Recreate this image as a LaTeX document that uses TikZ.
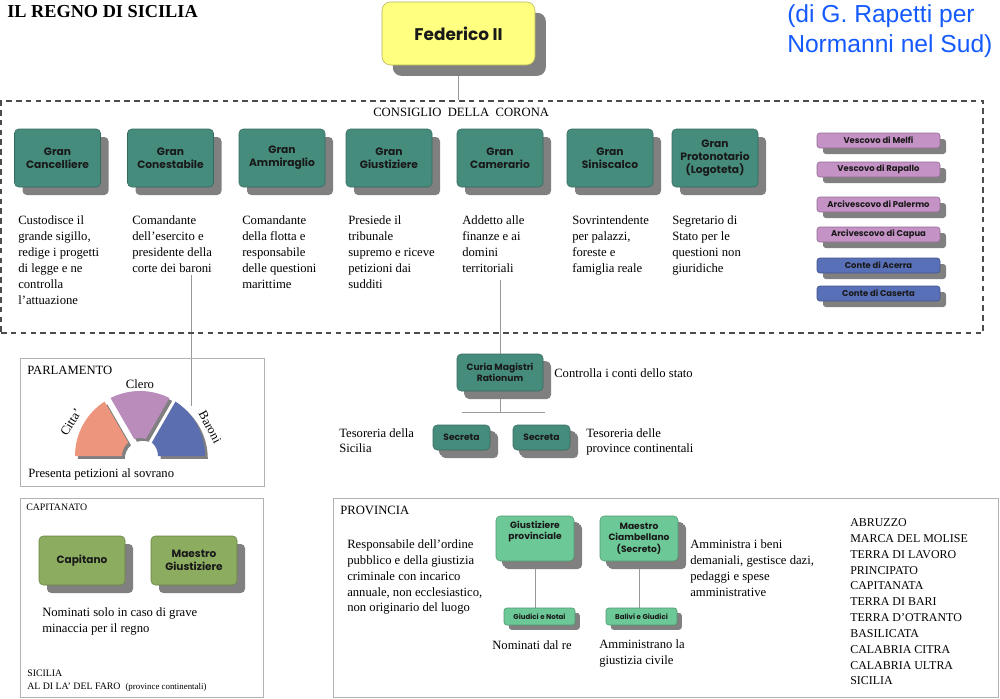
\documentclass[tikz,border=0pt]{standalone}
\usepackage{fontspec}
\setmainfont{Liberation Serif}
\newfontfamily\boxfont{Poppins}
\newfontfamily\creditfont{Liberation Sans}
\usetikzlibrary{shadows,backgrounds}

\definecolor{tealbox}{RGB}{70,140,125}
\definecolor{kingyellow}{RGB}{255,255,128}
\definecolor{bishoppink}{RGB}{196,146,196}
\definecolor{countblue}{RGB}{88,112,184}
\definecolor{captaingreen}{RGB}{140,172,96}
\definecolor{mintbox}{RGB}{108,200,150}
\definecolor{shadowgray}{RGB}{128,128,128}
\definecolor{boxtext}{RGB}{25,25,25}
\definecolor{creditblue}{RGB}{20,90,255}
\definecolor{cittacol}{RGB}{238,150,125}
\definecolor{clerocol}{RGB}{185,140,188}
\definecolor{baronicol}{RGB}{90,110,176}

\newcommand{\pxu}{0.025cm}

\begin{document}
\begin{tikzpicture}[
        x=\pxu, y=-\pxu,
        every node/.style={font=\fontsize{9}{11.4}\selectfont},
        king/.style={
            draw=kingyellow!70!black,
            fill=kingyellow,
            rounded corners=6pt,
            minimum width=153*\pxu,
            minimum height=63*\pxu,
            text=boxtext,
            font=\boxfont\bfseries\fontsize{12}{14}\selectfont,
            general shadow={fill=shadowgray, shadow xshift=0.27cm, shadow yshift=-0.27cm}
        },
        office/.style={
            draw=tealbox!75!black,
            fill=tealbox,
            rounded corners=3pt,
            inner sep=1pt,
            align=center,
            text=boxtext,
            minimum width=86*\pxu,
            minimum height=58*\pxu,
            font=\boxfont\bfseries\fontsize{7.6}{9.4}\selectfont,
            general shadow={fill=shadowgray, shadow xshift=0.2cm, shadow yshift=-0.2cm}
        },
        member/.style={
            draw=#1!75!black,
            fill=#1,
            rounded corners=2pt,
            inner sep=0pt,
            text=boxtext,
            minimum width=123*\pxu,
            minimum height=15*\pxu,
            font=\boxfont\bfseries\fontsize{6}{7}\selectfont,
            general shadow={fill=shadowgray, shadow xshift=0.15cm, shadow yshift=-0.15cm}
        },
        smallbox/.style={
            draw=#1!75!black,
            fill=#1,
            rounded corners=2pt,
            inner sep=0pt,
            text=boxtext,
            font=\boxfont\bfseries\fontsize{5}{6}\selectfont,
            general shadow={fill=shadowgray, shadow xshift=0.12cm, shadow yshift=-0.12cm}
        },
        crownbox/.style={
            draw=black!70,
            line width=1.1pt,
            dash pattern=on 4pt off 3pt,
            minimum width=982*\pxu,
            minimum height=232*\pxu
        },
        frame/.style={draw=black!30, line width=0.7pt},
        note/.style={anchor=north west, align=left, inner sep=0pt},
        link/.style={draw=black!40, line width=0.6pt},
        sector/.style={fill=#1, general shadow={fill=shadowgray, shadow xshift=0.07cm, shadow yshift=-0.07cm}}
    ]

    \useasboundingbox (0,0) rectangle (1000,698);

    % title and credit
    \node[anchor=west, inner sep=0pt, font=\bfseries\fontsize{13}{15}\selectfont] (title) at (7,11.5)
        {IL REGNO DI SICILIA};
    \node[anchor=west, align=left, inner sep=0pt, text=creditblue,
        font=\creditfont\fontsize{17.5}{21}\selectfont] (credit) at (787,31)
        {(di G. Rapetti per\\Normanni nel Sud)};

    \node[king] (federico) at (458.5,33.5) {Federico II};

    % consiglio della corona
    \node[crownbox] (corona) at (492,217) {};
    \node[anchor=west, inner sep=0pt, font=\fontsize{9}{10}\selectfont] (coronaLabel) at (373,112)
        {CONSIGLIO\enspace DELLA\enspace CORONA};

    \node[office] (cancelliere) at (57.5,158) {Gran\\Cancelliere};
    \node[office] (conestabile) at (170.5,158) {Gran\\Conestabile};
    \node[office] (ammiraglio) at (282,158) {Gran\\Ammiraglio};
    \node[office] (giustiziere) at (389,158) {Gran\\Giustiziere};
    \node[office] (camerario) at (500,158) {Gran\\Camerario};
    \node[office] (siniscalco) at (610,158) {Gran\\Siniscalco};
    \node[office] (protonotario) at (715,158) {Gran\\Protonotario\\(Logoteta)};

    \node[note] (descCancelliere) at (18,215)
        {Custodisce il\\grande sigillo,\\redige i progetti\\di legge e ne\\controlla\\l'attuazione};
    \node[note] (descConestabile) at (132,215)
        {Comandante\\dell'esercito e\\presidente della\\corte dei baroni};
    \node[note] (descAmmiraglio) at (242,215)
        {Comandante\\della flotta e\\responsabile\\delle questioni\\marittime};
    \node[note] (descGiustiziere) at (348,215)
        {Presiede il\\tribunale\\supremo e riceve\\petizioni dai\\sudditi};
    \node[note] (descCamerario) at (462,215)
        {Addetto alle\\finanze e ai\\domini\\territoriali};
    \node[note] (descSiniscalco) at (572,215)
        {Sovrintendente\\per palazzi,\\foreste e\\famiglia reale};
    \node[note] (descProtonotario) at (672,215)
        {Segretario di\\Stato per le\\questioni non\\giuridiche};

    \node[member=bishoppink] (melfi) at (878.5,140.5) {Vescovo di Melfi};
    \node[member=bishoppink] (rapallo) at (878.5,169.5) {Vescovo di Rapallo};
    \node[member=bishoppink] (palermo) at (878.5,204.5) {Arcivescovo di Palermo};
    \node[member=bishoppink] (capua) at (878.5,234.5) {Arcivescovo di Capua};
    \node[member=countblue] (acerra) at (878.5,265.5) {Conte di Acerra};
    \node[member=countblue] (caserta) at (878.5,293.5) {Conte di Caserta};

    % parlamento
    \node[frame, minimum width=244*\pxu, minimum height=128*\pxu] (parlamento) at (142,422) {};
    \node[anchor=west, inner sep=0pt] (parlamentoLabel) at (27,370) {PARLAMENTO};

    \begin{scope}[shift={(140,456)}, x=\pxu, y=\pxu]
        \fill[sector=cittacol] (180:65) arc[start angle=180, end angle=123.1, radius=65*\pxu]
            -- (131.2:18) arc[start angle=131.2, end angle=180, radius=18*\pxu] -- cycle;
        \fill[sector=clerocol] (116.9:65) arc[start angle=116.9, end angle=63.1, radius=65*\pxu]
            -- (71.2:18) arc[start angle=71.2, end angle=108.8, radius=18*\pxu] -- cycle;
        \fill[sector=baronicol] (56.9:65) arc[start angle=56.9, end angle=0, radius=65*\pxu]
            -- (0:18) arc[start angle=0, end angle=48.8, radius=18*\pxu] -- cycle;
    \end{scope}
    \coordinate (baroniTop) at (191,406);

    \node (clero) at (140,384) {Clero};
    \node[rotate=58] (citta) at (71,422) {Citta'};
    \node[rotate=-62] (baroni) at (210,427) {Baroni};
    \node[anchor=west, inner sep=0pt] (petizioni) at (28,474) {Presenta petizioni al sovrano};

    % curia
    \node[office, minimum height=37*\pxu, font=\boxfont\bfseries\fontsize{6.5}{8}\selectfont,
        general shadow={fill=shadowgray, shadow xshift=0.18cm, shadow yshift=-0.18cm}]
        (curia) at (500,372.5) {Curia Magistri\\Rationum};
    \node[anchor=west, inner sep=0pt] (curiaNote) at (554,373) {Controlla i conti dello stato};

    \coordinate (split) at (500,412);
    \coordinate (splitL) at (462,412);
    \coordinate (splitR) at (545,412);

    \node[office, minimum width=57*\pxu, minimum height=25*\pxu, font=\boxfont\bfseries\fontsize{6.5}{8}\selectfont,
        general shadow={fill=shadowgray, shadow xshift=0.15cm, shadow yshift=-0.15cm}]
        (secretaSic) at (461.5,437.5) {Secreta};
    \node[office, minimum width=57*\pxu, minimum height=25*\pxu, font=\boxfont\bfseries\fontsize{6.5}{8}\selectfont,
        general shadow={fill=shadowgray, shadow xshift=0.15cm, shadow yshift=-0.15cm}]
        (secretaCont) at (541.5,437.5) {Secreta};
    \node[note, font=\fontsize{9}{10.5}\selectfont] (tesSicilia) at (339,428.5)
        {Tesoreria della\\Sicilia};
    \node[note, font=\fontsize{9}{10.5}\selectfont] (tesCont) at (586,428.5)
        {Tesoreria delle\\province continentali};

    % capitanato
    \node[frame, minimum width=243*\pxu, minimum height=199*\pxu] (capitanato) at (141.5,597.5) {};
    \node[anchor=west, inner sep=0pt, font=\fontsize{7}{8.5}\selectfont] (capitanatoLabel) at (26,507)
        {CAPITANATO};
    \node[office, draw=captaingreen!75!black, fill=captaingreen, minimum height=49*\pxu,
        font=\boxfont\bfseries\fontsize{7.5}{9.5}\selectfont] (capitano) at (82,560.5) {Capitano};
    \node[office, draw=captaingreen!75!black, fill=captaingreen, minimum height=49*\pxu,
        font=\boxfont\bfseries\fontsize{7.5}{9.5}\selectfont] (maestroGiust) at (194,560.5) {Maestro\\Giustiziere};
    \node[note] (capitanatoNote) at (42,607)
        {Nominati solo in caso di grave\\minaccia per il regno};
    \node[note, font=\fontsize{7}{9.25}\selectfont] (faro) at (27,669.5)
        {SICILIA\\AL DI LA' DEL FARO\ \ {\fontsize{6.3}{8}\selectfont(province continentali)}};

    % provincia
    \node[frame, minimum width=665*\pxu, minimum height=199*\pxu] (provincia) at (665.5,597.5) {};
    \node[anchor=west, inner sep=0pt] (provinciaLabel) at (340,510) {PROVINCIA};
    \node[note, font=\fontsize{9}{11.25}\selectfont] (provNote) at (347,539.5)
        {Responsabile dell'ordine\\pubblico e della giustizia\\criminale con incarico\\annuale, non ecclesiastico,\\non originario del luogo};

    \node[office, draw=mintbox!75!black, fill=mintbox, minimum width=78*\pxu, minimum height=45*\pxu,
        font=\boxfont\bfseries\fontsize{6.5}{8}\selectfont,
        general shadow={fill=shadowgray, shadow xshift=0.15cm, shadow yshift=-0.15cm}]
        (giustProv) at (535,538.5) {Giustiziere\\provinciale\\[4pt]};
    \node[office, draw=mintbox!75!black, fill=mintbox, minimum width=78*\pxu, minimum height=45*\pxu,
        font=\boxfont\bfseries\fontsize{6.5}{8}\selectfont,
        general shadow={fill=shadowgray, shadow xshift=0.15cm, shadow yshift=-0.15cm}]
        (ciambellano) at (639,538.5) {Maestro\\Ciambellano\\(Secreto)};

    \node[smallbox=mintbox, minimum width=71*\pxu, minimum height=17*\pxu] (giudici) at (539.5,616.5)
        {Giudici e Notai};
    \node[smallbox=mintbox, minimum width=71*\pxu, minimum height=17*\pxu] (balivi) at (641.5,616.5)
        {Balivi e Giudici};

    \node[anchor=west, inner sep=0pt] (nominatiRe) at (492,645) {Nominati dal re};
    \node[note] (civile) at (599,639.5) {Amministrano la\\giustizia civile};
    \node[note, font=\fontsize{9}{11.25}\selectfont] (beni) at (690,539.5)
        {Amministra i beni\\demaniali, gestisce dazi,\\pedaggi e spese\\amministrative};

    \node[note, font=\fontsize{8.5}{11.25}\selectfont] (regioni) at (850,518.5)
        {ABRUZZO\\MARCA DEL MOLISE\\TERRA DI LAVORO\\PRINCIPATO\\CAPITANATA\\TERRA DI BARI\\TERRA D'OTRANTO\\BASILICATA\\CALABRIA CITRA\\CALABRIA ULTRA\\SICILIA};

    % connectors
    \coordinate (conestabileFoot) at (191,275);
    \coordinate (camerarioFoot) at (500,280);
    \begin{scope}[on background layer]
        \draw[link] (federico) -- (federico |- corona.north);
        \draw[link] (conestabileFoot) -- (baroniTop);
        \draw[link] (camerarioFoot) -- (curia);
        \draw[link] (curia) -- (split);
        \draw[link] (splitL) -- (splitR);
        \draw[link] (giustProv) -- (giustProv |- giudici.north);
        \draw[link] (ciambellano) -- (ciambellano |- balivi.north);
    \end{scope}

    \end{tikzpicture}
\end{document}
